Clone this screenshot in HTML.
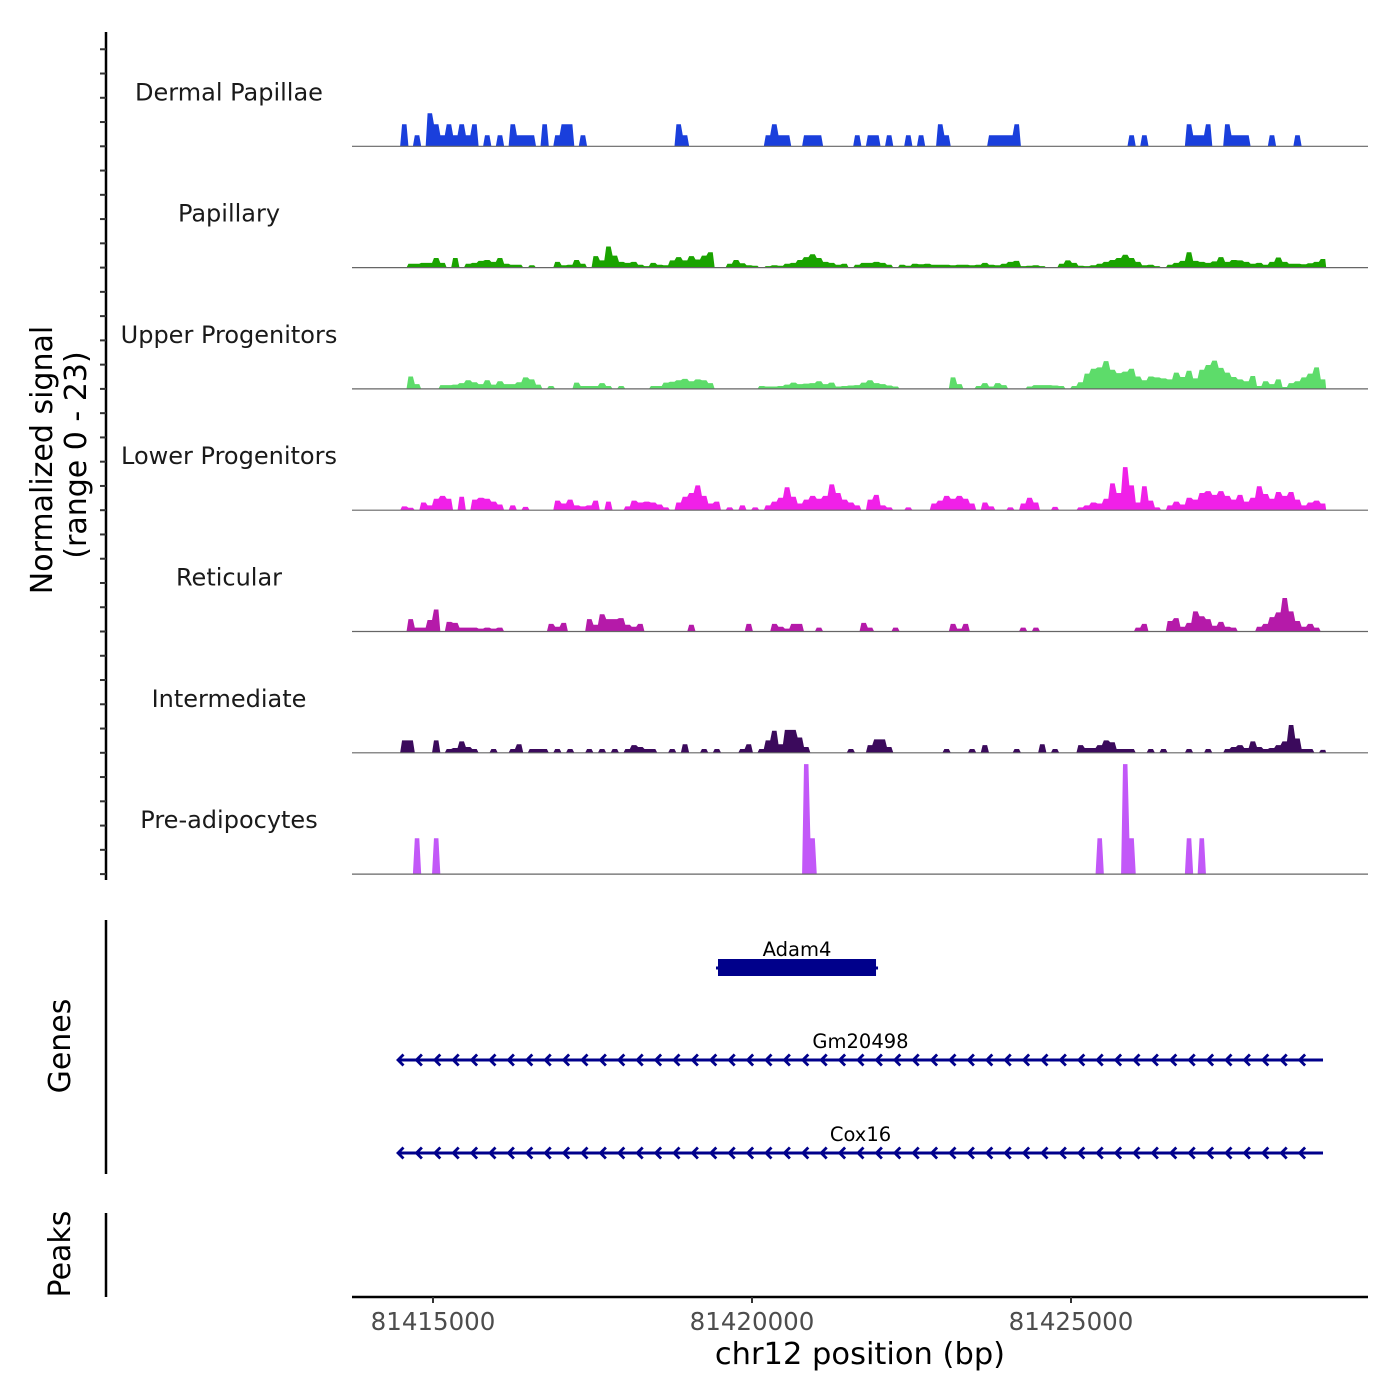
<!DOCTYPE html>
<html><head><meta charset="utf-8"><style>
html,body{margin:0;padding:0;background:#fff}
svg{display:block;font-family:"DejaVu Sans","Liberation Sans",sans-serif}
</style></head><body>
<svg id="chart" width="1400" height="1400" viewBox="0 0 1400 1400">
<g id="tracks"></g>
<g id="labels"></g>
<g id="yaxis">
<line x1="106" y1="32" x2="106" y2="880" stroke="#000" stroke-width="2.5"/>
</g>
<text transform="translate(52,460) rotate(-90)" text-anchor="middle" font-size="30" fill="#000">Normalized signal</text>
<text transform="translate(86,455) rotate(-90)" text-anchor="middle" font-size="30" fill="#000">(range 0 - 23)</text>
<line x1="106" y1="920" x2="106" y2="1174" stroke="#000" stroke-width="2.5"/>
<text transform="translate(70,1046) rotate(-90)" text-anchor="middle" font-size="30" fill="#000">Genes</text>
<line x1="106" y1="1213" x2="106" y2="1297" stroke="#000" stroke-width="2.5"/>
<text transform="translate(70,1254) rotate(-90)" text-anchor="middle" font-size="30" fill="#000">Peaks</text>
<g id="genes"></g>
<g id="xaxis">
<line x1="352" y1="1297" x2="1368" y2="1297" stroke="#000" stroke-width="2.5"/>
</g>
<text x="860" y="1364" text-anchor="middle" font-size="30.5" fill="#000">chr12 position (bp)</text>
</svg>
<script>
const NS="http://www.w3.org/2000/svg";
const binStart=81414400, binSize=100;
const trackNames=["Dermal Papillae","Papillary","Upper Progenitors","Lower Progenitors","Reticular","Intermediate","Pre-adipocytes"];
const trackColors=["#1a3fdc","#1aa300","#5ddc6a","#f020e8","#b51aa9","#3b0a5c","#c258f8"];
const dermalPapillae=[0,4.6,0,2.3,0,6.9,4.6,2.3,4.6,2.3, 4.6,2.3,4.6,0,2.3,0,2.3,0,4.6,2.3, 2.3,2.3,0,4.6,0,2.3,4.6,4.6,0,2.3, 0,0,0,0,0,0,0,0,0,0, 0,0,0,0,4.6,2.3,0,0,0,0, 0,0,0,0,0,0,0,0,2.3,4.6, 2.3,2.3,0,0,2.3,2.3,2.3,0,0,0, 0,0,2.3,0,2.3,2.3,0,2.3,0,0, 2.3,0,2.3,0,0,4.6,2.3,0,0,0, 0,0,0,2.3,2.3,2.3,2.3,4.6,0,0, 0,0,0,0,0,0,0,0,0,0, 0,0,0,0,0,2.3,0,2.3,0,0, 0,0,0,0,4.6,2.3,2.3,4.6,0,0, 4.6,2.3,2.3,2.3,0,0,0,2.3,0,0, 0,2.3,0,0,0,0];
const papillary=[0,0,0.8,0.8,1.0,1.0,2.0,1.0,0,2.0, 0,0.8,1.0,1.4,1.6,1.2,2.0,0.8,0.6,0.6, 0,0.5,0,0,0,1.2,0.5,0.6,1.6,0.8, 0,2.4,1.5,4.4,2.5,1.2,1.0,1.2,0.6,0.3, 1.0,0.6,0.5,1.5,2.2,1.5,2.4,1.7,2.5,3.2, 0,0,0.8,1.6,0.9,0.5,0.4,0,0.3,0.5, 0.4,0.8,1.0,1.6,2.2,2.8,2.0,1.2,1.0,0.6, 0.8,0,0.6,1.0,1.0,1.2,1.0,0.6,0,0.6, 0.4,0.8,0.7,0.8,0.6,0.6,0.6,0.5,0.6,0.6, 0.5,0.6,1.0,0.6,0.5,0.8,1.2,1.4,0.3,0.4, 0.5,0.3,0,0,0.8,1.5,1.0,0.4,0.3,0.5, 0.8,1.2,1.6,2.0,2.7,2.0,1.2,0.5,0.6,0.3, 0,0.6,1.0,1.4,3.2,1.4,1.2,1.0,1.3,2.2, 1.2,1.6,1.5,1.2,0.8,1.0,0.6,1.2,2.1,1.2, 0.8,0.8,0.7,0.9,1.2,1.8];
const upperProgenitors=[0,0,2.6,1.0,0,0,0,0.8,0.8,0.9, 1.2,1.8,1.4,1.0,1.8,0.9,1.6,1.0,1.0,1.4, 2.4,2.0,0.9,0,0.6,0,0,0,1.3,0.6, 0.6,0.6,1.2,0.6,0,0.6,0,0,0,0, 0.6,0.6,1.3,1.5,1.8,2.1,1.6,2.0,1.8,1.2, 0,0,0,0,0,0,0,0.6,0.5,0.5, 0.6,0.9,1.3,1.0,1.1,1.2,1.6,1.0,1.3,0.5, 0.6,0.7,0.8,1.3,1.8,1.2,1.0,0.7,0.5,0, 0,0,0,0,0,0,0,2.4,1.0,0, 0,0.6,1.2,0.5,1.2,0.8,0,0,0,0.5, 0.8,0.8,0.8,0.7,0.6,0,0.6,1.4,3.2,4.2, 4.5,5.8,4.0,3.3,3.6,4.2,2.6,1.8,2.6,2.4, 2.2,2.0,3.4,2.5,3.8,2.2,4.0,5.0,5.9,4.4, 3.4,2.5,2.0,1.6,2.7,0.6,1.6,1.0,2.0,0.4, 1.2,1.6,2.4,3.2,4.5,2.0];
const lowerProgenitors=[0,0.8,0.5,0,1.6,1.0,2.4,3.0,2.4,0, 2.8,0,2.2,2.6,2.4,1.8,1.2,0,1.0,0, 0.7,0,0,0,0,2.0,1.4,2.2,1.0,0.8, 1.0,2.0,0,1.8,0,0,0.8,2.0,1.6,1.8, 1.6,1.2,0.6,0,1.6,2.8,3.6,5.2,3.0,1.4, 1.8,0,0.6,0,1.0,0,0.6,0,1.0,1.8, 2.6,4.8,2.8,1.4,2.2,3.0,2.4,3.0,5.4,3.6, 2.2,1.6,1.0,0,2.2,3.2,1.0,0.6,0,0, 0.6,0,0,0,1.4,2.0,3.0,2.4,3.0,2.4, 1.4,0,1.6,0.8,0,0,0.6,0,1.4,2.6, 1.6,0,0,0.7,0,0,0,0.6,1.0,1.6, 1.4,2.4,5.6,3.6,9.0,5.2,1.6,5.0,2.0,0.6, 0,1.0,1.8,1.2,2.6,2.2,3.6,4.0,3.2,4.0, 3.0,2.2,3.2,1.8,2.6,5.0,3.4,2.4,3.8,3.0, 3.8,2.2,1.0,1.6,2.0,1.4];
const reticular=[0,0,2.6,0.8,0.8,2.4,4.6,0,2.0,1.8, 0.8,0.8,0.8,0.6,0.8,0.6,0.8,0,0,0, 0,0,0,0,1.6,1.0,1.8,0,0,0, 2.6,1.4,3.6,2.6,2.6,2.8,1.4,1.0,1.6,0, 0,0,0,0,0,0,1.4,0,0,0, 0,0,0,0,0,1.6,0,0,0,1.6, 1.0,0.6,1.6,1.6,0,0,0.8,0,0,0, 0,0,0,1.8,0.8,0,0,0,0.8,0, 0,0,0,0,0,0,0,1.6,0.6,1.6, 0,0,0,0,0,0,0,0,0.8,0, 0.8,0,0,0,0,0,0,0,0,0, 0,0,0,0,0,0,0.8,1.6,0,0, 0,2.2,2.8,1.0,1.8,4.2,3.2,2.6,1.2,2.0, 1.0,0.8,0,0,0,1.0,1.6,3.0,4.0,7.0, 4.2,2.2,1.0,1.6,0.8,0];
const intermediate=[0,2.6,2.6,0,0,0,2.6,0,0.8,1.0, 2.4,1.2,0.8,0,0,0.8,0,0,0.8,1.8, 0,0.8,0.8,0.8,0,0.8,0,0.8,0,0, 0.8,0,0.8,0,0.8,0,0.8,1.6,1.2,0.8, 0.8,0,0,0.8,0,1.8,0,0,0.8,0, 0.8,0,0,0,0.8,1.8,0,0.8,2.6,4.6, 1.8,4.8,4.8,3.2,1.2,0,0,0,0,0, 0,0.8,0,0,1.6,2.8,2.8,1.2,0,0, 0,0,0,0,0,0,0.8,0,0,0, 0.8,0,1.6,0,0,0,0,0.8,0,0, 0,1.8,0,0.8,0,0,0,1.6,1.0,1.0, 1.6,2.6,2.2,0.8,0.8,0.8,0,0,0.8,0, 0.8,0,0,0,0.8,0,0,0.8,0,0, 0.8,1.2,1.6,1.0,2.4,1.2,0.8,1.0,1.6,2.4, 5.8,3.0,0.8,0.8,0,0.6];
const preAdipocytes=[0,0,0,7.5,0,0,7.5,0,0,0, 0,0,0,0,0,0,0,0,0,0, 0,0,0,0,0,0,0,0,0,0, 0,0,0,0,0,0,0,0,0,0, 0,0,0,0,0,0,0,0,0,0, 0,0,0,0,0,0,0,0,0,0, 0,0,0,0,23,7.5,0,0,0,0, 0,0,0,0,0,0,0,0,0,0, 0,0,0,0,0,0,0,0,0,0, 0,0,0,0,0,0,0,0,0,0, 0,0,0,0,0,0,0,0,0,0, 7.5,0,0,0,23,7.5,0,0,0,0, 0,0,0,0,7.5,0,7.5,0,0,0, 0,0,0,0,0,0,0,0,0,0, 0,0,0,0,0,0];
const trackValues=[dermalPapillae,papillary,upperProgenitors,lowerProgenitors,reticular,intermediate,preAdipocytes];
const xTickValues=[81415000,81420000,81425000];
const xTickLabels=["81415000","81420000","81425000"];
const geneNames=["Adam4","Gm20498","Cox16"];
const geneStarts=[81419467,81414451,81414451];
const geneEnds=[81421944,81428950,81428950];
const geneStrands=["+","-","-"];

const X0=433, XBP=81415000, PXBP=319/5000;
function xs(bp){return X0+(bp-XBP)*PXBP;}
const baseY0=146.3, trackH=121.3, yMax=23, yPx=110;
function ys(v,t){return baseY0+t*trackH - v/yMax*yPx;}

const tracksG=document.getElementById('tracks');
const labelsG=document.getElementById('labels');
trackValues.forEach((vals,t)=>{
  const base=ys(0,t);
  let d="M"+xs(binStart).toFixed(2)+","+base.toFixed(2);
  vals.forEach((v,i)=>{
    const a=xs(binStart+i*binSize), b=xs(binStart+(i+1)*binSize), w=b-a;
    const y=ys(v,t).toFixed(2);
    d+=" L"+(a+0.15*w).toFixed(2)+","+y+" L"+(b-0.15*w).toFixed(2)+","+y;
  });
  d+=" L"+xs(binStart+vals.length*binSize).toFixed(2)+","+base.toFixed(2)+" Z";
  const p=document.createElementNS(NS,'path');
  p.setAttribute('d',d);p.setAttribute('fill',trackColors[t]);
  
  
  tracksG.appendChild(p);
  const bl=document.createElementNS(NS,'line');
  bl.setAttribute('x1',352);bl.setAttribute('x2',1368);bl.setAttribute('y1',base);bl.setAttribute('y2',base);
  bl.setAttribute('stroke','#666');bl.setAttribute('stroke-width','1.2');
  
  
  tracksG.appendChild(bl);
  const tx=document.createElementNS(NS,'text');
  tx.setAttribute('x',229);tx.setAttribute('y',(base-46).toFixed(1));
  tx.setAttribute('text-anchor','middle');tx.setAttribute('font-size','24');tx.setAttribute('fill','#1a1a1a');
  tx.textContent=trackNames[t];
  
  
  labelsG.appendChild(tx);
});
const yG=document.getElementById('yaxis');
for(let k=0;k<=34;k++){
  const y=ys(0,6)-k*trackH/5;
  const l=document.createElementNS(NS,'line');
  l.setAttribute('x1',100);l.setAttribute('x2',106);l.setAttribute('y1',y);l.setAttribute('y2',y);
  l.setAttribute('stroke','#333');l.setAttribute('stroke-width','2');
  
  
  yG.appendChild(l);
}
const gG=document.getElementById('genes');
const geneRowY=[968,1060,1153];
geneNames.forEach((g,i)=>{
  const a=xs(geneStarts[i]), b=xs(geneEnds[i]), y=geneRowY[i];
  const lbl=document.createElementNS(NS,'text');
  lbl.setAttribute('x',((a+b)/2).toFixed(1));lbl.setAttribute('y',y-12);
  lbl.setAttribute('text-anchor','middle');lbl.setAttribute('font-size','19.5');lbl.setAttribute('fill','#000');
  lbl.textContent=g;
  
  
  gG.appendChild(lbl);
  if(i===0){
    const r=document.createElementNS(NS,'rect');
    r.setAttribute('x',a);r.setAttribute('y',y-9);r.setAttribute('width',b-a);r.setAttribute('height',17);
    r.setAttribute('fill','#00008b');
    
    
    gG.appendChild(r);
    const ln=document.createElementNS(NS,'line');
    ln.setAttribute('x1',a-2);ln.setAttribute('x2',b+2);ln.setAttribute('y1',y);ln.setAttribute('y2',y);
    ln.setAttribute('stroke','#00008b');ln.setAttribute('stroke-width','3');
    
    
    gG.appendChild(ln);
  } else {
    const ln=document.createElementNS(NS,'line');
    ln.setAttribute('x1',a);ln.setAttribute('x2',b);ln.setAttribute('y1',y);ln.setAttribute('y2',y);
    ln.setAttribute('stroke','#00008b');ln.setAttribute('stroke-width','3');
    
    
    gG.appendChild(ln);
    let d="";
    for(let x=a;x<b-10;x+=18.4){
      d+="M"+(x+5.5).toFixed(1)+","+(y-5.5)+" L"+x.toFixed(1)+","+y+" L"+(x+5.5).toFixed(1)+","+(y+5.5)+" ";
    }
    const ch=document.createElementNS(NS,'path');
    ch.setAttribute('d',d);ch.setAttribute('fill','none');ch.setAttribute('stroke','#00008b');ch.setAttribute('stroke-width','2.8');
    
    
    gG.appendChild(ch);
  }
});
const xG=document.getElementById('xaxis');
xTickValues.forEach((v,i)=>{
  const x=xs(v);
  const t=document.createElementNS(NS,'line');
  t.setAttribute('x1',x);t.setAttribute('x2',x);t.setAttribute('y1',1297);t.setAttribute('y2',1303);
  t.setAttribute('stroke','#333');t.setAttribute('stroke-width','2');
  
  
  xG.appendChild(t);
  const tx=document.createElementNS(NS,'text');
  tx.setAttribute('x',x);tx.setAttribute('y',1330);tx.setAttribute('text-anchor','middle');
  tx.setAttribute('font-size','24.5');tx.setAttribute('fill','#4d4d4d');
  tx.textContent=xTickLabels[i];
  
  
  xG.appendChild(tx);
});
</script>
</body></html>
